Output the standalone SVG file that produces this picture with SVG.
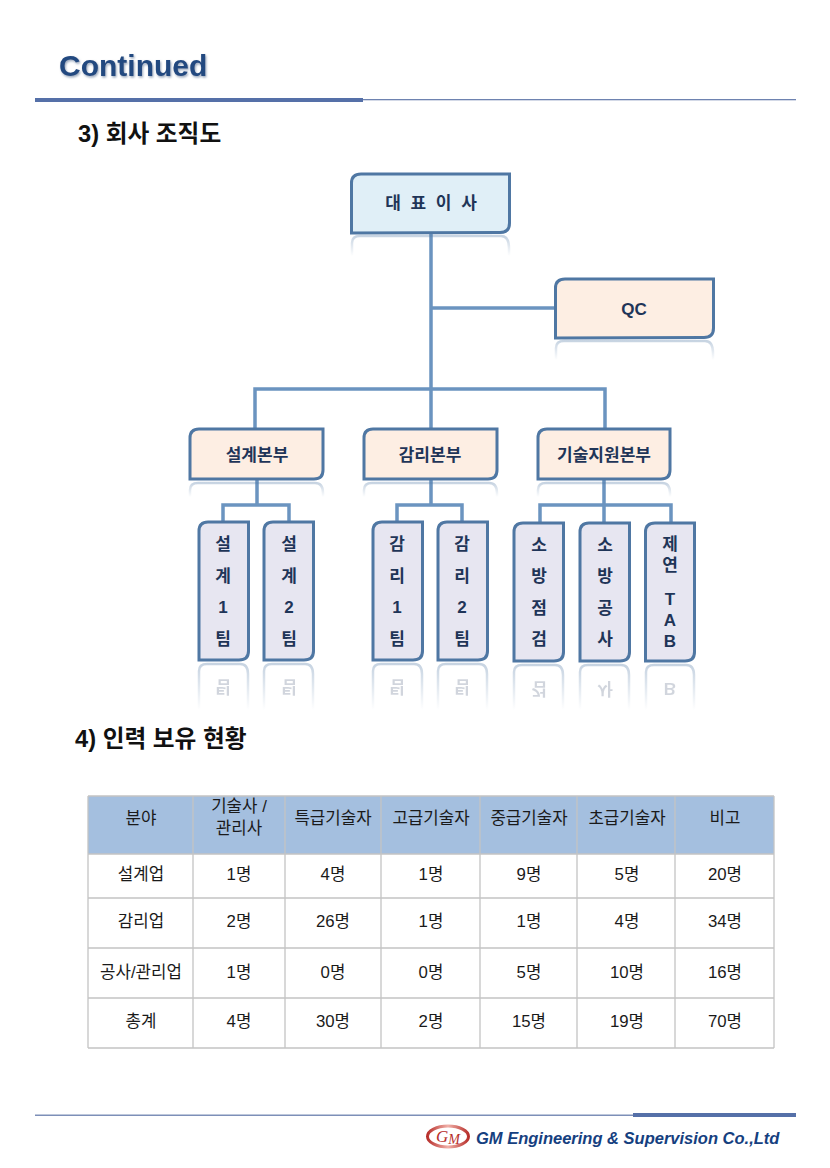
<svg xmlns="http://www.w3.org/2000/svg" width="830" height="1168" viewBox="0 0 830 1168">
<style>
text{font-family:"Liberation Sans","Noto Sans CJK KR",sans-serif}
.h{font-size:23.700px;font-weight:700;fill:#111}
.n{font-size:17px;font-weight:700;fill:#1f3558;text-anchor:middle}
.box{stroke:#4f77a3;stroke-width:3}
.b{fill:#e0eff7}.o{fill:#fdeee3}.t{fill:#e7e6f1}
.c{fill:none;stroke:#6b94c0;stroke-width:3.500}
.r{fill:none;stroke-width:2.500}
.g{fill:none;stroke:#c4c4c4;stroke-width:1.300}
.k{font-size:16.800px;fill:#1a1a1a;text-anchor:middle}
.rt{font-size:17px;font-weight:700;fill:#1f3558;text-anchor:middle;opacity:.2}
</style>
<defs>
<linearGradient id="fade" x1="0" y1="0" x2="0" y2="1"><stop offset="0" stop-color="#4f77a3" stop-opacity=".32"/><stop offset="1" stop-color="#4f77a3" stop-opacity="0"/></linearGradient>
<linearGradient id="logo" x1="0" y1="0" x2="1" y2="0"><stop offset="0" stop-color="#b8302c"/><stop offset=".5" stop-color="#f0b0a8"/><stop offset="1" stop-color="#b8302c"/></linearGradient>
<filter id="sh" x="-10%" y="-20%" width="120%" height="150%"><feDropShadow dx="1" dy="1.500" stdDeviation="1.200" flood-color="#6a7f9c" flood-opacity=".7"/></filter>
</defs>
<rect width="830" height="1168" fill="#fff"/>
<g id="header">
<text x="59" y="76" font-size="30" font-weight="700" fill="#234a80" filter="url(#sh)">Continued</text>
<rect x="35" y="98" width="328" height="4" fill="#5570a8"/>
<rect x="363" y="99" width="433" height="1.300" fill="#6e83b0"/>
</g>
<text class="h" x="78" y="142">3) 회사 조직도</text>
<text class="h" x="75" y="747">4) 인력 보유 현황</text>
<g id="connectors">
<path class="c" d="M431 233V428M431 308H555M255 428V389H605V428"/>
<path class="c" d="M257 480V505M223 521V505H289V521"/>
<path class="c" d="M431 480V505M397 521V505H462V521"/>
<path class="c" d="M604 480V522M540 522V505H671V522"/>
</g>
<g id="reflections">
<path class="r" stroke="url(#fade)" d="M352 256V243Q352 236 360 236H501Q509 236 509 248V256"/>
<path class="r" stroke="url(#fade)" d="M556 360V348Q556 341 564 341H705Q713 341 713 353V360"/>
<path class="r" stroke="url(#fade)" d="M190 497V490Q190 483 198 483H315Q323 483 323 493V497"/>
<path class="r" stroke="url(#fade)" d="M364 497V490Q364 483 372 483H489Q497 483 497 493V497"/>
<path class="r" stroke="url(#fade)" d="M538 497V490Q538 483 546 483H662Q670 483 670 493V497"/>
<path class="r" stroke="url(#fade)" d="M199 710V671Q199 664 207 664H240Q248 664 248 674V710"/>
<path class="r" stroke="url(#fade)" d="M264 710V671Q264 664 272 664H305Q313 664 313 674V710"/>
<path class="r" stroke="url(#fade)" d="M373 710V671Q373 664 381 664H414Q422 664 422 674V710"/>
<path class="r" stroke="url(#fade)" d="M438 710V671Q438 664 446 664H479Q487 664 487 674V710"/>
<path class="r" stroke="url(#fade)" d="M514 710V672Q514 665 522 665H555Q563 665 563 675V710"/>
<path class="r" stroke="url(#fade)" d="M580 710V672Q580 665 588 665H621Q629 665 629 675V710"/>
<path class="r" stroke="url(#fade)" d="M646 710V672Q646 665 654 665H686Q694 665 694 675V710"/>
<g transform="translate(0,1326) scale(1,-1)">
<text class="rt" x="223" y="645">팀</text><text class="rt" x="289" y="645">팀</text>
<text class="rt" x="397" y="645">팀</text><text class="rt" x="462" y="645">팀</text>
</g>
<g transform="translate(0,1328) scale(1,-1)">
<text class="rt" x="539" y="645">검</text><text class="rt" x="605" y="645">사</text><text class="rt" x="670" y="645">B</text>
</g>
</g>
<g id="n-ceo"><path class="box b" d="M351.500 233V183Q351.500 174 361 174H509.500V223Q509.500 232.500 500 232.500Z"/><text class="n" x="431" y="209" word-spacing="5">대 표 이 사</text></g>
<g id="n-qc"><path class="box o" d="M555.500 338V288Q555.500 279 565 279H713.500V328Q713.500 337.500 704 337.500Z"/><text class="n" x="634" y="315">QC</text></g>
<g id="n-design"><path class="box o" d="M190 479V438Q190 429 199 429H323V470Q323 479 314 479Z"/><text class="n" x="257" y="461">설계본부</text></g>
<g id="n-super"><path class="box o" d="M364 479V438Q364 429 373 429H497V470Q497 479 488 479Z"/><text class="n" x="430" y="461">감리본부</text></g>
<g id="n-tech"><path class="box o" d="M538 479V438Q538 429 547 429H670V470Q670 479 661 479Z"/><text class="n" x="604" y="461">기술지원본부</text></g>
<g id="n-d1"><path class="box t" d="M199 660V531Q199 522 208 522H248.500V651Q248.500 660 239 660Z"/><text class="n" x="223" y="550">설</text><text class="n" x="223" y="582">계</text><text class="n" x="223" y="613">1</text><text class="n" x="223" y="645">팀</text></g>
<g id="n-d2"><path class="box t" d="M264 660V531Q264 522 273 522H313.500V651Q313.500 660 304 660Z"/><text class="n" x="289" y="550">설</text><text class="n" x="289" y="582">계</text><text class="n" x="289" y="613">2</text><text class="n" x="289" y="645">팀</text></g>
<g id="n-s1"><path class="box t" d="M373 660V531Q373 522 382 522H422.500V651Q422.500 660 413 660Z"/><text class="n" x="397" y="550">감</text><text class="n" x="397" y="582">리</text><text class="n" x="397" y="613">1</text><text class="n" x="397" y="645">팀</text></g>
<g id="n-s2"><path class="box t" d="M438 660V531Q438 522 447 522H487.500V651Q487.500 660 478 660Z"/><text class="n" x="462" y="550">감</text><text class="n" x="462" y="582">리</text><text class="n" x="462" y="613">2</text><text class="n" x="462" y="645">팀</text></g>
<g id="n-f1"><path class="box t" d="M514 661V532Q514 523 523 523H563.500V652Q563.500 661 554 661Z"/><text class="n" x="539" y="551">소</text><text class="n" x="539" y="582">방</text><text class="n" x="539" y="614">점</text><text class="n" x="539" y="645">검</text></g>
<g id="n-f2"><path class="box t" d="M580 661V532Q580 523 589 523H629.500V652Q629.500 661 620 661Z"/><text class="n" x="605" y="551">소</text><text class="n" x="605" y="582">방</text><text class="n" x="605" y="614">공</text><text class="n" x="605" y="645">사</text></g>
<g id="n-tab"><path class="box t" d="M645.500 661V532Q645.500 523 655 523H694.500V652Q694.500 661 685 661Z"/><text class="n" x="670" y="550">제</text><text class="n" x="670" y="571">연</text><text class="n" x="670" y="605">T</text><text class="n" x="670" y="626">A</text><text class="n" x="670" y="647">B</text></g>
<g id="table">
<rect x="88" y="796" width="686" height="58" fill="#a4bfdf"/>
<path class="g" d="M88 796H774M88 854H774M88 898H774M88 948H774M88 998H774M88 1048H774M88 796V1048M193 796V1048M285 796V1048M381 796V1048M480 796V1048M577 796V1048M675 796V1048M774 796V1048"/>
<text class="k" x="141" y="824">분야</text><text class="k" x="239" y="812">기술사 /</text><text class="k" x="239" y="834">관리사</text><text class="k" x="333" y="824">특급기술자</text><text class="k" x="431" y="824">고급기술자</text><text class="k" x="529" y="824">중급기술자</text><text class="k" x="627" y="824">초급기술자</text><text class="k" x="725" y="824">비고</text>
<text class="k" x="141" y="880">설계업</text><text class="k" x="239" y="880">1명</text><text class="k" x="333" y="880">4명</text><text class="k" x="431" y="880">1명</text><text class="k" x="529" y="880">9명</text><text class="k" x="627" y="880">5명</text><text class="k" x="725" y="880">20명</text>
<text class="k" x="141" y="927">감리업</text><text class="k" x="239" y="927">2명</text><text class="k" x="333" y="927">26명</text><text class="k" x="431" y="927">1명</text><text class="k" x="529" y="927">1명</text><text class="k" x="627" y="927">4명</text><text class="k" x="725" y="927">34명</text>
<text class="k" x="141" y="978">공사/관리업</text><text class="k" x="239" y="978">1명</text><text class="k" x="333" y="978">0명</text><text class="k" x="431" y="978">0명</text><text class="k" x="529" y="978">5명</text><text class="k" x="627" y="978">10명</text><text class="k" x="725" y="978">16명</text>
<text class="k" x="141" y="1027">총계</text><text class="k" x="239" y="1027">4명</text><text class="k" x="333" y="1027">30명</text><text class="k" x="431" y="1027">2명</text><text class="k" x="529" y="1027">15명</text><text class="k" x="627" y="1027">19명</text><text class="k" x="725" y="1027">70명</text>
</g>
<g id="footer">
<rect x="35" y="1114.500" width="598" height="1.500" fill="#7d8fb8"/>
<rect x="633" y="1113" width="163" height="4" fill="#5570a8"/>
<ellipse cx="448" cy="1136.500" rx="20.500" ry="10.500" fill="#fff" stroke="url(#logo)" stroke-width="3"/>
<text x="436" y="1142" font-size="17" font-style="italic" fill="#b8302c" style="font-family:'Liberation Serif',serif">G<tspan dy="2" font-size="14">M</tspan></text>
<text x="476" y="1144" font-size="16.500" font-weight="700" font-style="italic" fill="#15407f">GM Engineering &amp; Supervision Co.,Ltd</text>
</g>
</svg>
